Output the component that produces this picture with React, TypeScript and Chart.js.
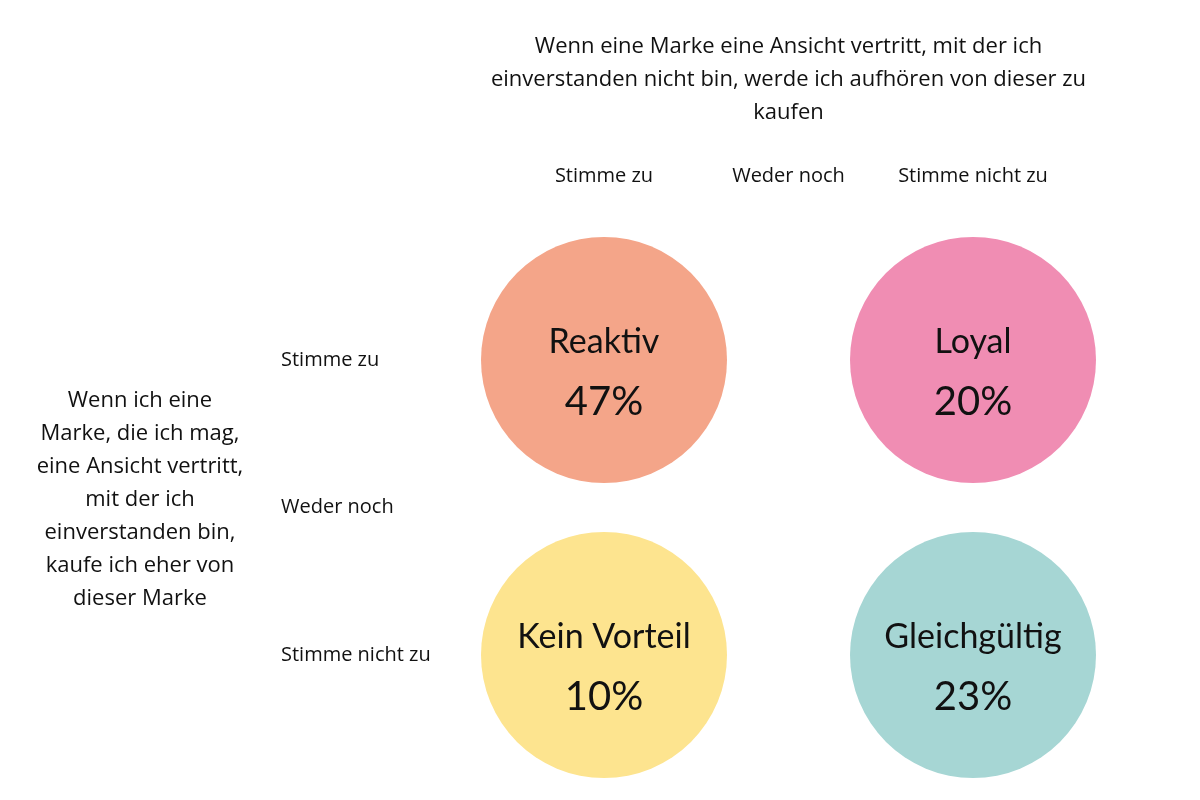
import React, { useEffect, useRef } from "react";
import { Chart, registerables } from "chart.js";

Chart.register(...registerables);

const titleTop = [
  "Wenn eine Marke eine Ansicht vertritt, mit der ich",
  "einverstanden nicht bin, werde ich aufhören von dieser zu",
  "kaufen",
];
const titleLeft = [
  "Wenn ich eine",
  "Marke, die ich mag,",
  "eine Ansicht vertritt,",
  "mit der ich",
  "einverstanden bin,",
  "kaufe ich eher von",
  "dieser Marke",
];
const colLabels = ["Stimme zu", "Weder noch", "Stimme nicht zu"];
const rowLabels = ["Stimme zu", "Weder noch", "Stimme nicht zu"];
const segmentNames = ["Reaktiv", "Loyal", "Kein Vorteil", "Gleichgültig"];
const segmentShares = [47, 20, 10, 23];
const segmentCol = [0, 2, 0, 2];
const segmentRow = [0, 0, 2, 2];
const segmentColors = ["#F4A589", "#F08DB3", "#FDE48F", "#A6D6D4"];

const FONT = "'Open Sans', Lato, sans-serif";
const BIG_FONT = "Lato, 'Open Sans', sans-serif";
const INK = "#111111";

const labelsPlugin = {
  id: "quadrantLabels",
  afterDatasetsDraw(chart: any) {
    const { ctx, scales } = chart;
    const xs = scales.x;
    const ys = scales.y;
    ctx.save();
    ctx.fillStyle = INK;
    ctx.textBaseline = "middle";

    // top title
    ctx.textAlign = "center";
    ctx.font = `22px ${FONT}`;
    const midX = xs.getPixelForValue(1);
    titleTop.forEach((line, i) => ctx.fillText(line, midX, 47 + i * 33));

    // column labels
    ctx.font = `20px ${FONT}`;
    colLabels.forEach((l, i) => ctx.fillText(l, xs.getPixelForValue(i), 176));

    // left title
    ctx.font = `22px ${FONT}`;
    titleLeft.forEach((line, i) => ctx.fillText(line, 140, 401 + i * 33));

    // row labels
    ctx.textAlign = "left";
    ctx.font = `20px ${FONT}`;
    rowLabels.forEach((l, i) => ctx.fillText(l, 281, ys.getPixelForValue(i)));

    // circle labels
    ctx.textAlign = "center";
    segmentNames.forEach((name, i) => {
      const cx = xs.getPixelForValue(segmentCol[i]);
      const cy = ys.getPixelForValue(segmentRow[i]);
      ctx.font = `34px ${BIG_FONT}`;
      ctx.fillText(name, cx, cy - 18);
      ctx.font = `40px ${BIG_FONT}`;
      ctx.fillText(`${segmentShares[i]}%`, cx, cy + 42);
    });
    ctx.restore();
  },
};

export default function App() {
  const ref = useRef<HTMLCanvasElement | null>(null);
  useEffect(() => {
    if (!ref.current) return;
    const chart = new Chart(ref.current, {
      type: "bubble",
      data: {
        datasets: [
          {
            data: segmentNames.map((n, i) => ({ x: segmentCol[i], y: segmentRow[i] })),
            backgroundColor: segmentColors,
            borderWidth: 0,
            radius: 123,
            hoverRadius: 0,
            clip: false,
          } as any,
        ],
      },
      options: {
        animation: false,
        responsive: false,
        maintainAspectRatio: false,
        events: [],
        layout: { padding: { left: 604, right: 227, top: 360, bottom: 145 } },
        plugins: { legend: { display: false }, tooltip: { enabled: false } },
        scales: {
          x: { type: "linear", min: 0, max: 2, display: false },
          y: { type: "linear", min: 0, max: 2, reverse: true, display: false },
        },
      },
      plugins: [labelsPlugin],
    });
    return () => chart.destroy();
  }, []);
  return (
    <div style={{ position: "fixed", left: 0, top: 0, width: 1200, height: 800, background: "#fff" }}>
      <canvas ref={ref} width={1200} height={800} style={{ width: 1200, height: 800 }} />
    </div>
  );
}
